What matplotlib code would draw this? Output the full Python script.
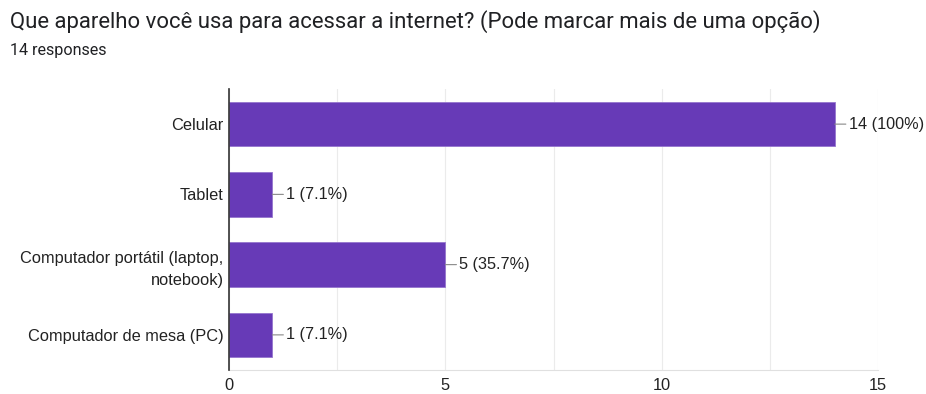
import matplotlib.pyplot as plt

categories = ["Celular", "Tablet", "Computador portátil (laptop,\nnotebook)", "Computador de mesa (PC)"]
counts = [14, 1, 5, 1]
pct_labels = ["14 (100%)", "1 (7.1%)", "5 (35.7%)", "1 (7.1%)"]
xticks = [0, 5, 10, 15]

plt.rcParams['font.family'] = ['Liberation Sans', 'DejaVu Sans']

fig = plt.figure(figsize=(9.26, 3.94), dpi=100)
ax = fig.add_axes([229/926, 1-370/394, (878-229)/926, (370-89)/394])

y = list(range(len(categories)))
ax.barh(y, counts, height=0.63, color="#673AB7", edgecolor="#9575CD", linewidth=0.6, zorder=3)

for yi, c, lab in zip(y, counts, pct_labels):
    ax.annotate(lab, xy=(c, yi), xytext=(10, 0), textcoords="offset points",
                va="center", ha="left", fontsize=11.7, color="#222222",
                arrowprops=dict(arrowstyle="-", color="#888888", lw=0.8,
                                shrinkA=0, shrinkB=0))

ax.set_ylim(3.5, -0.5)
ax.set_xlim(0, 15)
ax.set_yticks(y)
ax.set_yticklabels(categories, fontsize=11.8, color="#222222", ha="right")
for t in ax.get_yticklabels():
    t.set_linespacing(1.55)
ax.set_xticks(xticks)
ax.set_xticks([2.5, 7.5, 12.5], minor=True)
ax.tick_params(axis="x", which="both", length=0, labelsize=11.8, colors="#222222", pad=6)
ax.tick_params(axis="y", length=0, pad=4)
ax.grid(axis="x", which="both", color="#ebebeb", lw=0.8, zorder=0)

for s in ["top", "right"]:
    ax.spines[s].set_visible(False)
ax.spines["left"].set_color("#333333")
ax.spines["left"].set_linewidth(1.2)
ax.spines["left"].set_zorder(4)
ax.spines["bottom"].set_color("#e0e0e0")

fig.text(10/926, 1-22/394, "Que aparelho você usa para acessar a internet? (Pode marcar mais de uma opção)",
         fontsize=15.9, color="#202124", va="center", ha="left", family=["Roboto", "DejaVu Sans"])
fig.text(10/926, 1-50/394, "14 responses", fontsize=11.6, color="#202124", va="center", ha="left",
         family=["Roboto", "DejaVu Sans"])

fig.savefig("out.png", dpi=100, facecolor="white")
